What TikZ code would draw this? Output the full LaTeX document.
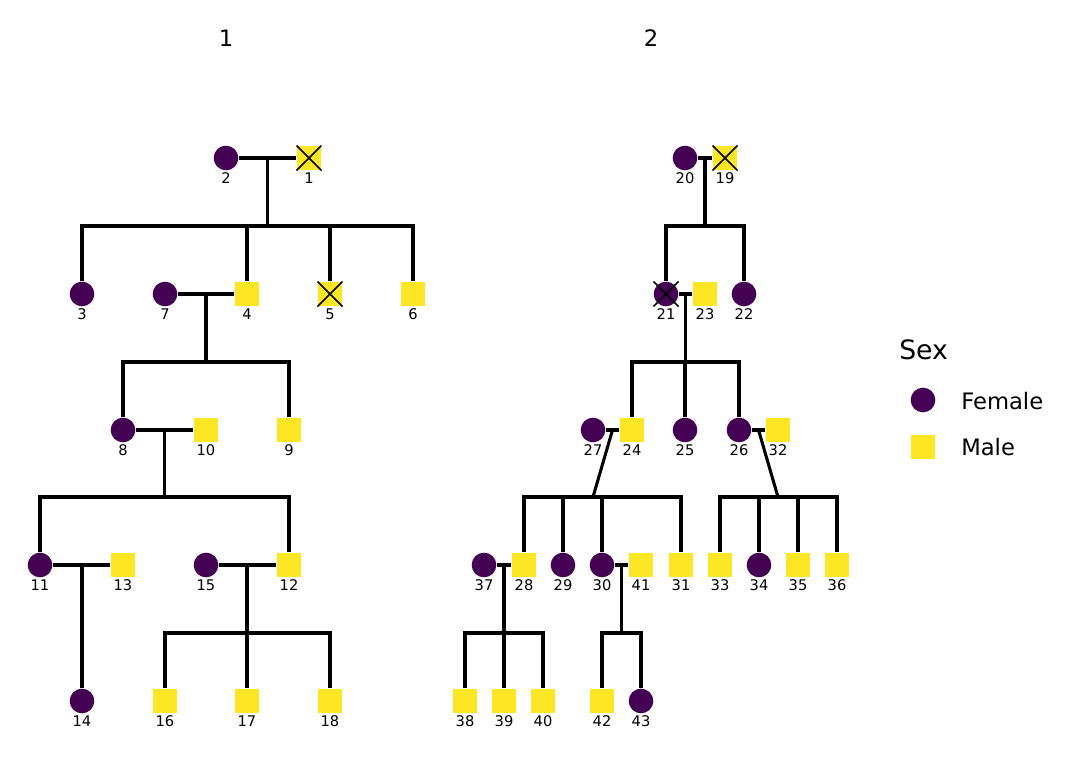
\documentclass[tikz,border=0pt]{standalone}
\usepackage{fontspec}
\setmainfont{DejaVu Sans}
\usetikzlibrary{calc}
\pgfdeclarelayer{bg}
\pgfsetlayers{bg,main}
\definecolor{fem}{HTML}{440154}
\definecolor{mal}{HTML}{FDE725}
\tikzset{
  F/.style={circle,fill=fem,minimum size=18.5pt,inner sep=0pt},
  M/.style={rectangle,fill=mal,minimum size=18.5pt,inner sep=0pt},
  lab/.style={font=\fontsize{11}{13}\selectfont,inner sep=0pt},
  ln/.style={line width=2.3pt},
  xl/.style={line width=1.2pt},
}
\newcommand\pers[4]{\node[#4] (p#1) at (#2,#3) {}; \node[lab] (l#1) at (#2,#3+20) {#1};}
\begin{document}
\begin{tikzpicture}[x=0.75pt,y=-0.75pt]
\useasboundingbox (0,0) rectangle (1075,768);
% titles
\node[font=\fontsize{17}{20}\selectfont] (t1) at (226,38) {1};
\node[font=\fontsize{17}{20}\selectfont] (t2) at (651,38) {2};
% family 1
\pers{2}{226}{158}{F}
\pers{1}{309}{158}{M}
\pers{3}{82}{294}{F}
\pers{7}{165}{294}{F}
\pers{4}{247}{294}{M}
\pers{5}{330}{294}{M}
\pers{6}{413}{294}{M}
\pers{8}{123}{430}{F}
\pers{10}{206}{430}{M}
\pers{9}{289}{430}{M}
\pers{11}{40}{565}{F}
\pers{13}{123}{565}{M}
\pers{15}{206}{565}{F}
\pers{12}{289}{565}{M}
\pers{14}{82}{701}{F}
\pers{16}{165}{701}{M}
\pers{17}{247}{701}{M}
\pers{18}{330}{701}{M}
% family 2
\pers{20}{685}{158}{F}
\pers{19}{725}{158}{M}
\pers{21}{666}{294}{F}
\pers{23}{705}{294}{M}
\pers{22}{744}{294}{F}
\pers{27}{593}{430}{F}
\pers{24}{632}{430}{M}
\pers{25}{685}{430}{F}
\pers{26}{739}{430}{F}
\pers{32}{778}{430}{M}
\pers{37}{484}{565}{F}
\pers{28}{524}{565}{M}
\pers{29}{563}{565}{F}
\pers{30}{602}{565}{F}
\pers{41}{641}{565}{M}
\pers{31}{681}{565}{M}
\pers{33}{720}{565}{M}
\pers{34}{759}{565}{F}
\pers{35}{798}{565}{M}
\pers{36}{837}{565}{M}
\pers{38}{465}{701}{M}
\pers{39}{504}{701}{M}
\pers{40}{543}{701}{M}
\pers{42}{602}{701}{M}
\pers{43}{641}{701}{F}
% deceased marks
\foreach \n in {1,5,19,21}{
  \draw[xl] (p\n.center) +(-12.5,-12.5) -- +(12.5,12.5);
  \draw[xl] (p\n.center) +(-12.5,12.5) -- +(12.5,-12.5);
}
% connectors
\begin{pgfonlayer}{bg}
% union 2-1
\draw[ln] (p2) -- (p1);
\coordinate (u1) at ($(p2)!0.5!(p1)$);
\coordinate (b1) at (267.5,226);
\draw[ln] (u1) -- (b1);
\draw[ln] (p3) |- (b1) -| (p6);
\foreach \c in {4,5} \draw[ln] (p\c) -- (p\c |- b1);
% union 7-4
\draw[ln] (p7) -- (p4);
\coordinate (u2) at ($(p7)!0.5!(p4)$);
\coordinate (b2) at (206,362);
\draw[ln] (u2) -- (b2);
\draw[ln] (p8) |- (b2) -| (p9);
% union 8-10
\draw[ln] (p8) -- (p10);
\coordinate (u3) at ($(p8)!0.5!(p10)$);
\coordinate (b3) at (164.5,497);
\draw[ln] (u3) -- (b3);
\draw[ln] (p11) |- (b3) -| (p12);
% union 11-13
\draw[ln] (p11) -- (p13);
\draw[ln] (p14) -- (p14 |- p11);
% union 15-12
\draw[ln] (p15) -- (p12);
\coordinate (b4) at (247,633);
\draw[ln] (p17) -- (p17 |- p15);
\draw[ln] (p16) |- (b4) -| (p18);
% union 20-19
\draw[ln] (p20) -- (p19);
\coordinate (u5) at ($(p20)!0.5!(p19)$);
\coordinate (b5) at (705,226);
\draw[ln] (u5) -- (b5);
\draw[ln] (p21) |- (b5) -| (p22);
% union 21-23
\draw[ln] (p21) -- (p23);
\coordinate (u6) at ($(p21)!0.5!(p23)$);
\coordinate (b6) at (685.5,362);
\draw[ln] (u6) -- (b6);
\draw[ln] (p24) |- (b6) -| (p26);
\draw[ln] (p25) -- (p25 |- b6);
% union 27-24
\draw[ln] (p27) -- (p24);
\coordinate (u7) at ($(p27)!0.5!(p24)$);
\coordinate (b7) at (593,497);
\draw[ln] (u7) -- (b7);
\draw[ln] (p28) |- (b7) -| (p31);
\foreach \c in {29,30} \draw[ln] (p\c) -- (p\c |- b7);
% union 26-32
\draw[ln] (p26) -- (p32);
\coordinate (u8) at ($(p26)!0.5!(p32)$);
\coordinate (b8) at (778,497);
\draw[ln] (u8) -- (b8);
\draw[ln] (p33) |- (b8) -| (p36);
\foreach \c in {34,35} \draw[ln] (p\c) -- (p\c |- b8);
% union 37-28
\draw[ln] (p37) -- (p28);
\coordinate (u9) at ($(p37)!0.5!(p28)$);
\coordinate (b9) at (504,633);
\draw[ln] (u9) -- (p39);
\draw[ln] (p38) |- (b9) -| (p40);
% union 30-41
\draw[ln] (p30) -- (p41);
\coordinate (u10) at ($(p30)!0.5!(p41)$);
\coordinate (b10) at (621.5,633);
\draw[ln] (u10) -- (b10);
\draw[ln] (p42) |- (b10) -| (p43);
\end{pgfonlayer}
% legend
\node[anchor=west,font=\fontsize{20}{24}\selectfont,inner sep=0pt] (lt) at (899,350) {Sex};
\node[F] (lf) at (923,400) {};
\node[anchor=west,font=\fontsize{17}{20}\selectfont,inner sep=0pt] (lft) at (961,401) {Female};
\node[M] (lm) at (923,447) {};
\node[anchor=west,font=\fontsize{17}{20}\selectfont,inner sep=0pt] (lmt) at (961,447) {Male};
\end{tikzpicture}
\end{document}
